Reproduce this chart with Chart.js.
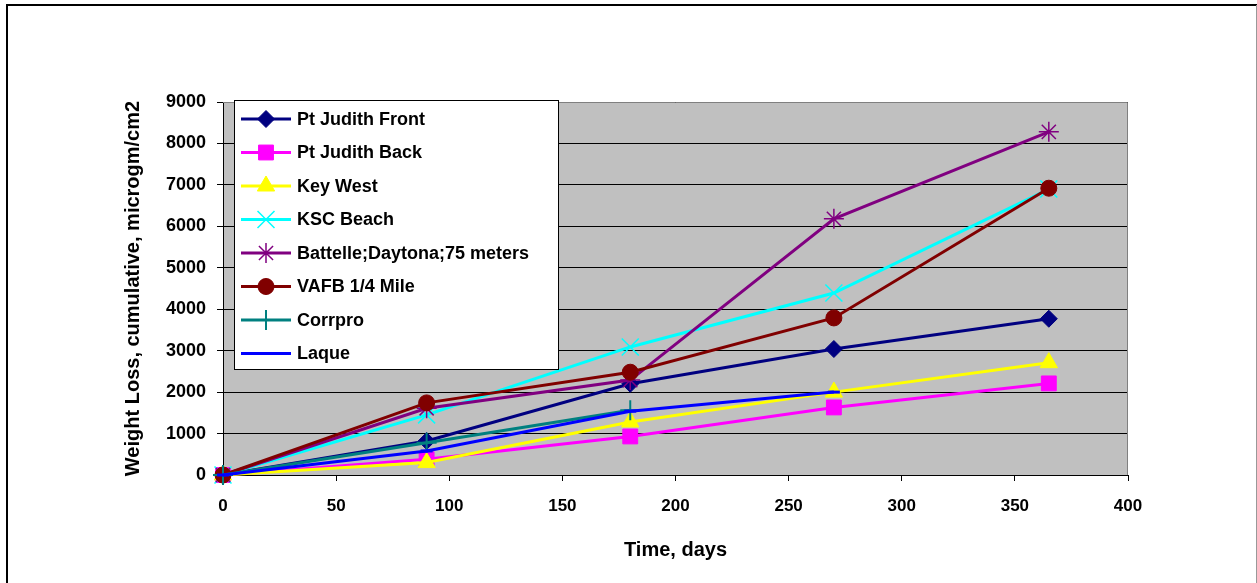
<!DOCTYPE html>
<html>
<head>
<meta charset="utf-8">
<script src="https://cdn.jsdelivr.net/npm/chart.js@4.4.0/dist/chart.umd.min.js"></script>
<style>
    html, body { margin: 0; padding: 0; background: #fff; }
    #wrap { position: relative; width: 1257px; height: 583px; }
</style>
</head>
<body>
<div id="wrap"><canvas id="chart" width="1257" height="583"></canvas></div>
<script>
// time axis, days
const days = [0, 90, 180, 270, 365];

const seriesNames = [
    'Pt Judith Front',
    'Pt Judith Back',
    'Key West',
    'KSC Beach',
    'Battelle;Daytona;75 meters',
    'VAFB 1/4 Mile',
    'Corrpro',
    'Laque'
];

// weight loss, cumulative, microgm/cm2
const ptJudithFront = [0, 820, 2200, 3040, 3770];
const ptJudithBack  = [0, 380, 930, 1630, 2210];
const keyWest       = [0, 300, 1280, 2000, 2710];
const kscBeach      = [0, 1450, 3090, 4390, 6900];
const battelle      = [0, 1610, 2290, 6180, 8280];
const vafb          = [0, 1740, 2480, 3790, 6920];
const corrpro       = [0, 780, 1560, null, null];
const laque         = [0, 580, 1540, 2000, null];

const yTicks = [0, 1000, 2000, 3000, 4000, 5000, 6000, 7000, 8000, 9000];
const xTicks = [0, 50, 100, 150, 200, 250, 300, 350, 400];

const seriesValues = [ptJudithFront, ptJudithBack, keyWest, kscBeach, battelle, vafb, corrpro, laque];

const styles = [
    { color: '#000080', pointStyle: 'rectRot', radius: 8.5, pbw: 1 },
    { color: '#FF00FF', pointStyle: 'rect', radius: 10.5, pbw: 1 },
    { color: '#FFFF00', pointStyle: 'triangle', radius: 10, pbw: 1 },
    { color: '#00FFFF', pointStyle: 'crossRot', radius: 12, pbw: 1.5 },
    { color: '#800080', pointStyle: 'star', radius: 10, pbw: 1.5 },
    { color: '#800000', pointStyle: 'circle', radius: 8, pbw: 1 },
    { color: '#008080', pointStyle: 'cross', radius: 10, pbw: 2 },
    { color: '#0000FF', pointStyle: 'line', radius: 6, pbw: 3 }
];

const FONT = '"Liberation Sans", Arial, sans-serif';

const datasets = seriesNames.map((name, i) => ({
    label: name,
    data: days.map((d, j) => ({ x: d, y: seriesValues[i][j] })),
    borderColor: styles[i].color,
    backgroundColor: styles[i].color,
    pointBackgroundColor: styles[i].color,
    pointBorderColor: styles[i].color,
    pointStyle: styles[i].pointStyle,
    pointRadius: styles[i].radius,
    pointBorderWidth: styles[i].pbw,
    borderWidth: 3,
    tension: 0,
    fill: false,
    clip: false,
    order: seriesNames.length - i // later series on top, like excel
}));

// grey plot area + outer frame
const framePlugin = {
    id: 'frame',
    beforeDraw(chart) {
        const { ctx, chartArea: a } = chart;
        ctx.save();
        ctx.fillStyle = '#fff';
        ctx.fillRect(0, 0, chart.width, chart.height);
        ctx.fillStyle = '#C0C0C0';
        ctx.fillRect(a.left, a.top, a.right - a.left, a.bottom - a.top);
        ctx.strokeStyle = '#000';
        ctx.lineWidth = 2;
        ctx.beginPath();
        ctx.moveTo(7, chart.height);
        ctx.lineTo(7, 5);
        ctx.lineTo(chart.width, 5);
        ctx.stroke();
        ctx.strokeStyle = '#999';
        ctx.lineWidth = 1;
        ctx.beginPath();
        ctx.moveTo(1256.5, 5);
        ctx.lineTo(1256.5, chart.height);
        ctx.stroke();
        ctx.restore();
    },
    beforeDatasetsDraw(chart) {
        const { ctx, chartArea: a } = chart;
        ctx.save();
        ctx.strokeStyle = '#808080';
        ctx.lineWidth = 1;
        ctx.beginPath();
        ctx.moveTo(a.left, a.top + 0.5);
        ctx.lineTo(a.right - 0.5, a.top + 0.5);
        ctx.lineTo(a.right - 0.5, a.bottom);
        ctx.stroke();
        ctx.restore();
    }
};

// boxed legend inside the plot, top left
const boxLegend = {
    id: 'boxLegend',
    afterDraw(chart) {
        const ctx = chart.ctx;
        const left = 234, top = 100, w = 324, h = 269, gap = 33.5;
        ctx.save();
        ctx.fillStyle = '#fff';
        ctx.fillRect(left, top, w, h);
        ctx.strokeStyle = '#000';
        ctx.lineWidth = 1;
        ctx.strokeRect(left + 0.5, top + 0.5, w, h);
        chart.data.datasets.forEach((ds, i) => {
            const y = top + 19 + i * gap;
            ctx.strokeStyle = ds.borderColor;
            ctx.lineWidth = 3;
            ctx.beginPath();
            ctx.moveTo(left + 7, y);
            ctx.lineTo(left + 57, y);
            ctx.stroke();
            ctx.fillStyle = ds.pointBackgroundColor;
            ctx.strokeStyle = ds.pointBorderColor;
            ctx.lineWidth = ds.pointBorderWidth;
            const opts = { pointStyle: ds.pointStyle, radius: ds.pointRadius, rotation: 0, borderWidth: ds.pointBorderWidth };
            if (Chart.helpers && Chart.helpers.drawPoint) {
                Chart.helpers.drawPoint(ctx, opts, left + 32, y);
            } else {
                ctx.beginPath();
                ctx.arc(left + 32, y, 7, 0, Math.PI * 2);
                ctx.fill();
            }
            ctx.fillStyle = '#000';
            ctx.font = 'bold 18px ' + FONT;
            ctx.textBaseline = 'middle';
            ctx.textAlign = 'left';
            ctx.fillText(ds.label, left + 63, y + 1);
        });
        ctx.restore();
    }
};

const ctx = document.getElementById('chart').getContext('2d');
new Chart(ctx, {
    type: 'line',
    data: { datasets: datasets },
    options: {
        responsive: false,
        animation: false,
        devicePixelRatio: 1,
        layout: { padding: { left: 110, top: 102, right: 129, bottom: 0 } },
        plugins: {
            legend: { display: false },
            tooltip: { enabled: false },
            title: { display: false }
        },
        scales: {
            x: {
                type: 'linear',
                min: 0,
                max: 400,
                afterBuildTicks: s => { s.ticks = xTicks.map(v => ({ value: v })); },
                afterFit: s => { s.height = 108; },
                ticks: {
                    color: '#000', padding: 15, maxRotation: 0,
                    font: { family: FONT, size: 17, weight: 'bold' },
                    callback: v => String(v)
                },
                grid: { drawOnChartArea: false, drawTicks: true, tickLength: 6, color: '#000' },
                border: { color: '#000', width: 1 },
                title: {
                    display: true,
                    text: 'Time, days',
                    color: '#000',
                    font: { family: FONT, size: 20, weight: 'bold' },
                    padding: { top: 0, bottom: 21 }
                }
            },
            y: {
                type: 'linear',
                min: 0,
                max: 9000,
                afterBuildTicks: s => { s.ticks = yTicks.map(v => ({ value: v })); },
                afterFit: s => { s.width = 113; },
                ticks: {
                    color: '#000', padding: 11,
                    font: { family: FONT, size: 18, weight: 'bold' },
                    callback: v => String(v)
                },
                grid: { color: '#000', lineWidth: 1, tickLength: 6 },
                border: { color: '#000', width: 1 },
                title: {
                    display: true,
                    text: 'Weight Loss, cumulative, microgm/cm2',
                    color: '#000',
                    font: { family: FONT, size: 20, weight: 'bold' },
                    padding: { top: 11, bottom: 0 }
                }
            }
        }
    },
    plugins: [framePlugin, boxLegend]
});
</script>
</body>
</html>
